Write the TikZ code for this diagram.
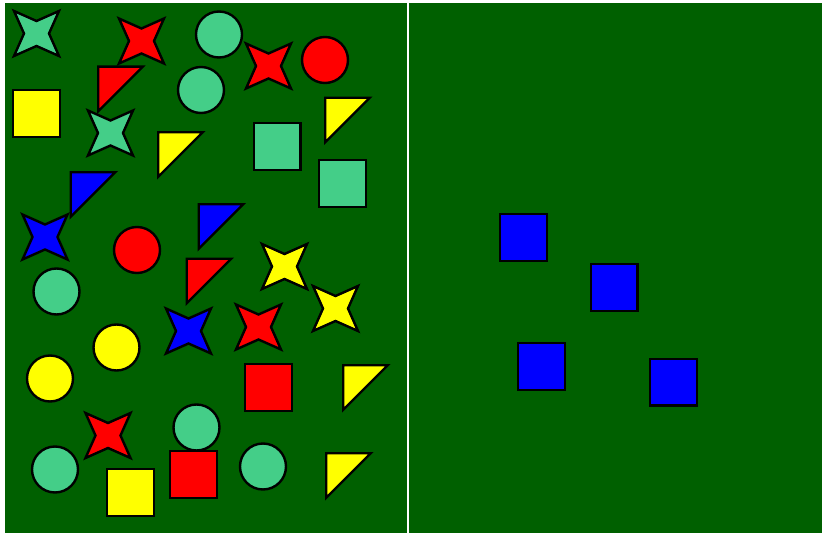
\documentclass[tikz,border=0pt]{standalone}
\definecolor{bggreen}{RGB}{0,96,0}
\definecolor{tealc}{RGB}{68,206,136}
\definecolor{redc}{RGB}{255,0,0}
\definecolor{yelc}{RGB}{255,255,0}
\definecolor{bluec}{RGB}{0,0,255}
\tikzset{
  starpic/.pic={\path[pic actions] (-22.5,-22.5) -- (0,-12.5) -- (22.5,-22.5) -- (12.5,0) -- (22.5,22.5) -- (0,12.5) -- (-22.5,22.5) -- (-12.5,0) -- cycle;},
  sqpic/.pic={\path[pic actions] (-23.3,-23.3) rectangle (23.3,23.3);},
  circpic/.pic={\path[pic actions] (0,0) circle[radius=23];},
  tripic/.pic={\path[pic actions] (-22.3,-22.3) -- (22.3,-22.3) -- (-22.3,22.3) -- cycle;},
  shape/.style={draw=black, line width=2.4pt, fill=#1},
}
\begin{document}
\begin{tikzpicture}[x=1pt,y=-1pt]
\useasboundingbox (0,0) rectangle (822,535);
\fill[white] (0,0) rectangle (822,535);
\fill[bggreen] (5,3) rectangle (822,533);
\fill[white] (407,3) rectangle (409,533);
% circles
\pic[shape=tealc] (c1) at (219,34.5) {circpic};
\pic[shape=redc] (c2) at (325,60) {circpic};
\pic[shape=tealc] (c3) at (201,90) {circpic};
\pic[shape=redc] (c4) at (137,250) {circpic};
\pic[shape=tealc] (c5) at (56.5,291.5) {circpic};
\pic[shape=yelc] (c6) at (116.5,347.5) {circpic};
\pic[shape=yelc] (c7) at (50,378.5) {circpic};
\pic[shape=tealc] (c8) at (196.5,427.5) {circpic};
\pic[shape=tealc] (c9) at (55,469.5) {circpic};
\pic[shape=tealc] (c10) at (263,466.5) {circpic};
% triangles
\pic[shape=redc] (t1) at (120.5,89) {tripic};
\pic[shape=yelc] (t2) at (180.5,154.5) {tripic};
\pic[shape=yelc] (t3) at (347.5,120) {tripic};
\pic[shape=bluec] (t4) at (93,194.5) {tripic};
\pic[shape=bluec] (t5) at (221,226.5) {tripic};
\pic[shape=redc] (t6) at (209,281) {tripic};
\pic[shape=yelc] (t7) at (365.5,387.5) {tripic};
\pic[shape=yelc] (t8) at (348.5,475.5) {tripic};
% squares
\pic[shape=yelc] (q1) at (36.5,113.5) {sqpic};
\pic[shape=tealc] (q2) at (277,146.5) {sqpic};
\pic[shape=tealc] (q3) at (342.5,183.5) {sqpic};
\pic[shape=redc] (q4) at (268.5,387.5) {sqpic};
\pic[shape=yelc] (q5) at (130.5,492.5) {sqpic};
\pic[shape=redc] (q6) at (193.5,474.5) {sqpic};
\pic[shape=bluec] (q7) at (523.5,237.5) {sqpic};
\pic[shape=bluec] (q8) at (614,287.5) {sqpic};
\pic[shape=bluec] (q9) at (541.5,366.5) {sqpic};
\pic[shape=bluec] (q10) at (673.5,382) {sqpic};
% stars
\pic[shape=tealc] (s1) at (36.5,33.5) {starpic};
\pic[shape=redc] (s2) at (141.5,41) {starpic};
\pic[shape=redc] (s3) at (268.5,66) {starpic};
\pic[shape=tealc] (s4) at (110.5,133) {starpic};
\pic[shape=bluec] (s5) at (45,237) {starpic};
\pic[shape=yelc] (s6) at (284.5,266.5) {starpic};
\pic[shape=yelc] (s7) at (335.5,308.5) {starpic};
\pic[shape=bluec] (s8) at (188.5,331) {starpic};
\pic[shape=redc] (s9) at (258.5,327) {starpic};
\pic[shape=redc] (s10) at (108,435.5) {starpic};
\end{tikzpicture}
\end{document}
